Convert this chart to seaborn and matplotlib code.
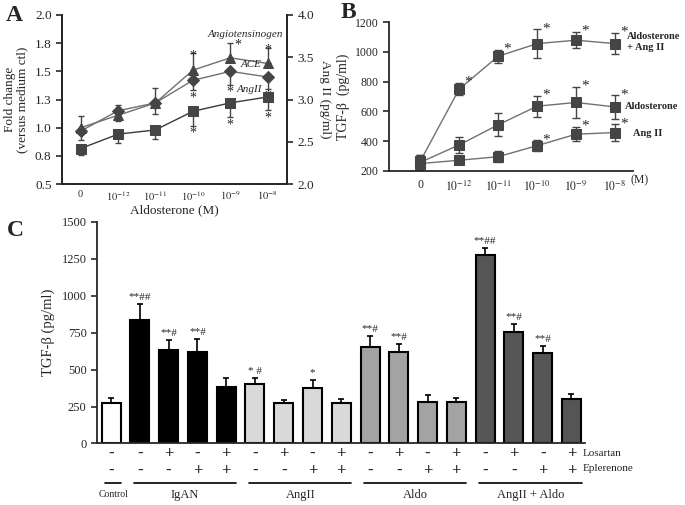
import numpy as np
import pandas as pd
import matplotlib
matplotlib.use('Agg')
import matplotlib.pyplot as plt
import seaborn as sns

# Panel A data (fold change left axis, Ang II right axis)
dose_labels = ['0', r'$10^{-12}$', r'$10^{-11}$', r'$10^{-10}$', r'$10^{-9}$', r'$10^{-8}$']
agt = [1.00, 1.11, 1.22, 1.51, 1.62, 1.57]
agt_err = [0.10, 0.09, 0.13, 0.15, 0.13, 0.14]
agt_sig = ['', '', '', '*', '*', '*']
ace = [0.97, 1.15, 1.22, 1.42, 1.50, 1.45]
ace_err = [0.08, 0.09, 0.10, 0.09, 0.12, 0.11]
ace_sig = ['', '', '', '*', '*', '*']
angii_a = [2.42, 2.59, 2.64, 2.86, 2.96, 3.03]
angii_a_err = [0.08, 0.10, 0.11, 0.17, 0.17, 0.16]
angii_a_sig = ['', '', '', '*', '*', '*']

# Panel B data (TGF-beta pg/ml)
aldo_ang = [265, 750, 970, 1055, 1078, 1055]
aldo_ang_err = [45, 40, 45, 95, 55, 72]
aldo_ang_sig = ['', '*', '*', '*', '*', '*']
aldo = [258, 375, 510, 635, 660, 630]
aldo_err = [50, 55, 78, 70, 105, 78]
aldo_sig = ['', '', '', '*', '*', '*']
ang = [250, 272, 296, 370, 447, 458]
ang_err = [40, 25, 35, 35, 48, 55]
ang_sig = ['', '', '', '*', '*', '*']

# Panel C data
groups = ['Control', 'IgAN', 'AngII', 'Aldo', 'AngII + Aldo']
group_sizes = [1, 4, 4, 4, 4]
group_colors = ['#ffffff', '#000000', '#d9d9d9', '#a3a3a3', '#555555']
losartan = ['-', '-', '+', '-', '+', '-', '+', '-', '+', '-', '+', '-', '+', '-', '+', '-', '+']
eplerenone = ['-', '-', '-', '+', '+', '-', '-', '+', '+', '-', '-', '+', '+', '-', '-', '+', '+']
tgf = [275, 835, 634, 616, 381, 403, 273, 376, 273, 654, 620, 280, 278, 1272, 757, 614, 298]
tgf_err = [33, 110, 65, 90, 63, 40, 23, 56, 27, 74, 54, 45, 33, 50, 49, 47, 38]
tgf_sig = ['', '**##', '**#', '**#', '', '* #', '', '*', '',
           '**#', '**#', '', '', '**##', '**#', '**#', '']

sns.set_style('ticks')
plt.rcParams['font.family'] = ['Liberation Serif', 'DejaVu Serif']
plt.rcParams['mathtext.fontset'] = 'stix'
plt.rcParams['axes.linewidth'] = 1.3

fig = plt.figure(figsize=(6.85, 5.05), dpi=100)
mark_col = '#454545'
line_col = '#707070'

# ---------------- Panel A ----------------
axA = fig.add_axes([0.0905, 0.6356, 0.3285, 0.3347])
xA = np.arange(len(dose_labels))
sns.lineplot(x=xA, y=agt, ax=axA, color=line_col, lw=1, marker='^', markersize=7,
             markerfacecolor=mark_col, markeredgecolor=mark_col)
sns.lineplot(x=xA, y=ace, ax=axA, color=line_col, lw=1, marker='D', markersize=6,
             markerfacecolor=mark_col, markeredgecolor=mark_col)
axA.errorbar(xA, agt, yerr=[np.zeros(6), agt_err], fmt='none', ecolor=mark_col,
             elinewidth=1, capsize=2.5)
axA.errorbar(xA, ace, yerr=[ace_err, np.zeros(6)], fmt='none', ecolor=mark_col,
             elinewidth=1, capsize=2.5)
axA.set_xlim(-0.5, 5.52)
axA.set_ylim(0.5, 2.0)
axA.set_yticks(np.arange(0.5, 2.01, 0.25))
axA.set_yticklabels(['0.5', '0.8', '1.0', '1.3', '1.5', '1.8', '2.0'], fontsize=9.5)
axA.set_xticks(xA)
axA.set_xticklabels(dose_labels, fontsize=7.5)
axA.tick_params(axis='x', length=0, pad=4)
axA.tick_params(axis='y', length=4, width=1.2)
axA.spines['top'].set_visible(False)
axA.set_xlabel('Aldosterone (M)', fontsize=9.5, labelpad=1)
axA.set_ylabel('Fold change\n(versus medium ctl)', fontsize=9.5, linespacing=1.0)
axA.yaxis.set_label_coords(-0.15, 0.5)
for i in range(6):
    if agt_sig[i]:
        dx = 0.12 if i == 4 else 0.0
        axA.text(xA[i] + dx, agt[i] + agt_err[i] - 0.02, agt_sig[i],
                 ha='left' if i == 4 else 'center', va='center', fontsize=10)
    if ace_sig[i]:
        axA.text(xA[i], ace[i] - ace_err[i] - 0.005, ace_sig[i], ha='center', va='top', fontsize=10)

axA2 = axA.twinx()
sns.lineplot(x=xA, y=angii_a, ax=axA2, color='#3a3a3a', lw=1, marker='s', markersize=7,
             markerfacecolor=mark_col, markeredgecolor=mark_col)
axA2.errorbar(xA, angii_a, yerr=[angii_a_err, np.zeros(6)], fmt='none', ecolor=mark_col,
              elinewidth=1, capsize=2.5)
axA2.set_ylim(2.0, 4.0)
axA2.set_yticks(np.arange(2.0, 4.01, 0.5))
axA2.set_yticklabels(['%.1f' % v for v in np.arange(2.0, 4.01, 0.5)], fontsize=9.5)
axA2.tick_params(axis='y', length=4, width=1.2)
axA2.spines['top'].set_visible(False)
axA2.set_ylabel('Ang II (pg/ml)', fontsize=9.5, rotation=-90, labelpad=12)
for i in range(6):
    if angii_a_sig[i]:
        axA2.text(xA[i], angii_a[i] - angii_a_err[i] - 0.01, angii_a_sig[i], ha='center', va='top', fontsize=10)
axA.text(4.4, 1.83, 'Angiotensinogen', style='italic', fontsize=8, ha='center', va='center')
axA.text(4.55, 1.56, 'ACE', style='italic', fontsize=8, ha='center', va='center')
axA.text(4.5, 1.34, 'AngII', style='italic', fontsize=8, ha='center', va='center')

# ---------------- Panel B ----------------
axB = fig.add_axes([0.568, 0.6614, 0.356, 0.295])
xB = np.arange(len(dose_labels))
for vals, errs, sig in [(aldo_ang, aldo_ang_err, aldo_ang_sig),
                        (aldo, aldo_err, aldo_sig),
                        (ang, ang_err, ang_sig)]:
    sns.lineplot(x=xB, y=vals, ax=axB, color=line_col, lw=1, marker='s', markersize=7,
                 markerfacecolor=mark_col, markeredgecolor=mark_col)
    axB.errorbar(xB, vals, yerr=errs, fmt='none', ecolor=mark_col, elinewidth=1, capsize=3)
    for i in range(6):
        if sig[i]:
            axB.text(xB[i] + 0.13, vals[i] + errs[i] + 5, sig[i], ha='left', va='center', fontsize=11)
axB.set_xlim(-0.8, 5.46)
axB.set_ylim(200, 1200)
axB.set_yticks(range(200, 1201, 200))
axB.set_yticklabels([str(v) for v in range(200, 1201, 200)], fontsize=8.5)
axB.set_xticks(xB)
axB.set_xticklabels(dose_labels, fontsize=8.5)
axB.tick_params(axis='x', length=0, pad=6)
axB.tick_params(axis='y', length=4, width=1.2)
axB.spines['top'].set_visible(False)
axB.spines['right'].set_visible(False)
axB.set_ylabel('TGF-β  (pg/ml)', fontsize=10)
axB.yaxis.set_label_coords(-0.16, 0.5)
axB.text(5.62, 178, '(M)', fontsize=8.5, ha='center', va='top')
axB.text(0.975, 0.865, 'Aldosterone\n+ Ang II', transform=axB.transAxes, fontsize=7.5,
         fontweight='bold', ha='left', va='center', linespacing=1.3)
axB.text(0.967, 0.43, 'Aldosterone', transform=axB.transAxes, fontsize=7.5,
         fontweight='bold', ha='left', va='center')
axB.text(1.0, 0.255, 'Ang II', transform=axB.transAxes, fontsize=7.5,
         fontweight='bold', ha='left', va='center')

# ---------------- Panel C ----------------
axC = fig.add_axes([0.1416, 0.1218, 0.7124, 0.439])
cond = []
colors = []
for g, n, c in zip(groups, group_sizes, group_colors):
    for k in range(n):
        cond.append(f'{g} {k}')
        colors.append(c)
dfC = pd.DataFrame({'cond': cond, 'tgf': tgf})
sns.barplot(data=dfC, x='cond', y='tgf', hue='cond', palette=dict(zip(cond, colors)),
            legend=False, width=0.66, edgecolor='black', linewidth=1.5, ax=axC)
xC = np.arange(len(cond))
axC.errorbar(xC, tgf, yerr=[np.zeros(len(tgf)), tgf_err], fmt='none', ecolor='black',
             elinewidth=1.2, capsize=2.5, capthick=1.2)
for i in range(len(cond)):
    if tgf_sig[i]:
        axC.text(xC[i], tgf[i] + tgf_err[i] + 15, tgf_sig[i], ha='center', va='bottom', fontsize=8)
axC.set_xlim(-0.49, 16.47)
axC.set_ylim(0, 1500)
axC.set_yticks(range(0, 1501, 250))
axC.set_yticklabels([str(v) for v in range(0, 1501, 250)], fontsize=9)
axC.set_xticks([])
axC.set_xlabel('')
axC.tick_params(axis='y', length=4, width=1.2)
axC.spines['top'].set_visible(False)
axC.spines['right'].set_visible(False)
axC.set_ylabel('TGF-β (pg/ml)', fontsize=10.5)
axC.yaxis.set_label_coords(-0.086, 0.5)

tr = axC.get_xaxis_transform()
for i in range(len(cond)):
    axC.text(xC[i], -0.047, losartan[i], transform=tr, ha='center', va='center',
             fontsize=12, fontweight='bold', clip_on=False)
    axC.text(xC[i], -0.125, eplerenone[i], transform=tr, ha='center', va='center',
             fontsize=12, fontweight='bold', clip_on=False)
axC.text(16.4, -0.047, 'Losartan', transform=tr, ha='left', va='center', fontsize=8)
axC.text(16.4, -0.115, 'Eplerenone', transform=tr, ha='left', va='center', fontsize=8)
start = 0
for g, n in zip(groups, group_sizes):
    x0, x1 = start - 0.2, start + n - 1 + 0.35
    axC.plot([x0, x1], [-0.178, -0.178], transform=tr, color='black', lw=1.2, clip_on=False)
    axC.text((x0 + x1) / 2, -0.232, g, transform=tr, ha='center', va='center',
             fontsize=7 if g == 'Control' else 9)
    start += n

# panel letters
fig.text(0.008, 0.97, 'A', fontsize=17, fontweight='bold', va='center', ha='left')
fig.text(0.497, 0.975, 'B', fontsize=17, fontweight='bold', va='center', ha='left')
fig.text(0.01, 0.543, 'C', fontsize=17, fontweight='bold', va='center', ha='left')

fig.savefig('out.png', dpi=100)
